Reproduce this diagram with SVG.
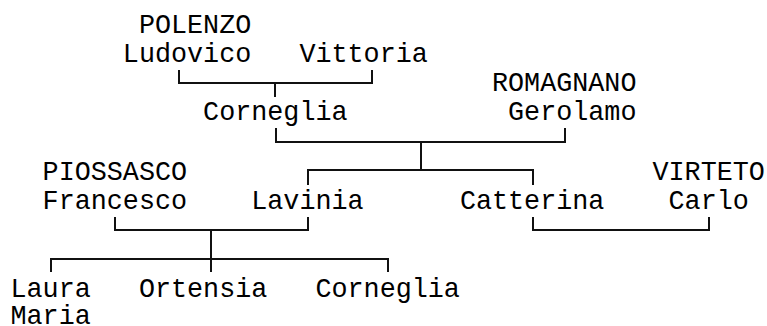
<svg xmlns="http://www.w3.org/2000/svg" width="767" height="326" viewBox="0 0 767 326">
<style>
text{font-family:"Liberation Mono","DejaVu Sans Mono",monospace;font-size:26.75px;fill:#000;}
.c{fill:none;stroke:#111;stroke-width:2;stroke-linecap:square;}
</style>
<rect width="767" height="326" fill="#fff"/>
<g id="connectors">
<path class="c" d="M179,71 V83 H372 V71 M275,83 V96"/>
<path class="c" d="M276,129 V142 H565 V129 M421,142 V170 M308,184 V170 H533 V184"/>
<path class="c" d="M115,218 V230 H308 V218 M211,230 V271 M51,271 V259 H388 V271"/>
<path class="c" d="M533,218 V230 H709 V218"/>
</g>
<g id="ludovico"><text x="138.9" y="33">POLENZO</text><text x="122.85" y="62">Ludovico</text></g>
<g id="vittoria"><text x="299.4" y="62">Vittoria</text></g>
<g id="corneglia1"><text x="203.1" y="120">Corneglia</text></g>
<g id="gerolamo"><text x="492" y="91">ROMAGNANO</text><text x="508.05" y="120">Gerolamo</text></g>
<g id="francesco"><text x="42.6" y="179.5">PIOSSASCO</text><text x="42.6" y="208.5">Francesco</text></g>
<g id="lavinia"><text x="251.25" y="208.5">Lavinia</text></g>
<g id="catterina"><text x="459.9" y="208.5">Catterina</text></g>
<g id="carlo"><text x="652.5" y="179.5">VIRTETO</text><text x="668.55" y="208.5">Carlo</text></g>
<g id="laura-maria"><text x="10.5" y="296.5">Laura<tspan x="10.5" y="324">Maria</tspan></text></g>
<g id="ortensia"><text x="138.9" y="296.5">Ortensia</text></g>
<g id="corneglia2"><text x="315.45" y="296.5">Corneglia</text></g>
</svg>
